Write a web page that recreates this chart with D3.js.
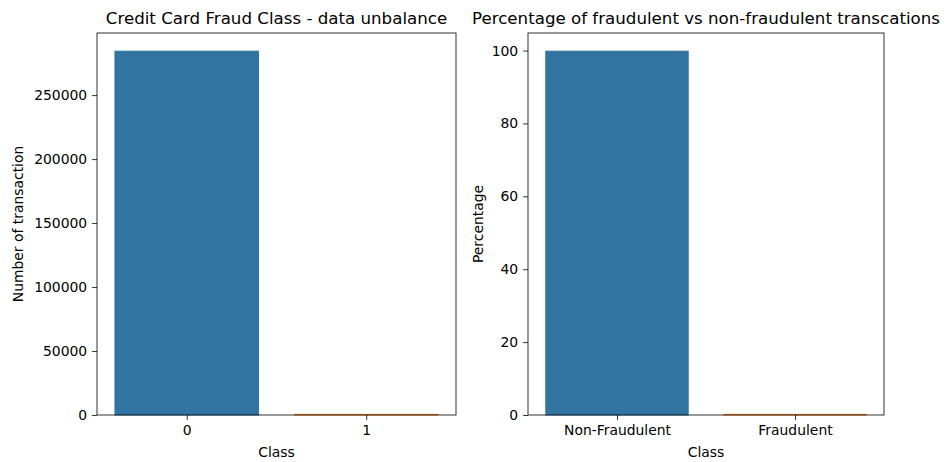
<!DOCTYPE html>
<html><head><meta charset="utf-8">
<script src="https://cdn.jsdelivr.net/npm/d3@7"></script>
<style>body{margin:0;background:#fff}svg{display:block}text{font-family:"DejaVu Sans",sans-serif;fill:#000}</style>
</head><body><svg id="c" width="948" height="462"></svg>
<script>
const classCodes = ["0", "1"];
const classNames = ["Non-Fraudulent", "Fraudulent"];
const counts = [284315, 492];
const percentages = [99.827, 0.173];
const countTicks = [0, 50000, 100000, 150000, 200000, 250000];
const pctTicks = [0, 20, 40, 60, 80, 100];
const colors = ["#3274a1", "#e1812c"];

const svg = d3.select("#c");
const panels = [
  {left: 97, right: 456, cats: classCodes, vals: counts, ticks: countTicks, ylx: 18,
   title: "Credit Card Fraud Class - data unbalance", ylabel: "Number of transaction"},
  {left: 528, right: 884, cats: classNames, vals: percentages, ticks: pctTicks, ylx: 478,
   title: "Percentage of fraudulent vs non-fraudulent transcations", ylabel: "Percentage"}
];
const plotTop = 33, plotBottom = 415;
panels.forEach(p => {
  const g = svg.append("g");
  const x = d3.scaleLinear().domain([-0.5, p.cats.length - 0.5]).range([p.left, p.right]);
  const y = d3.scaleLinear().domain([0, d3.max(p.vals) * 1.05]).range([plotBottom, plotTop]);
  const bw = x(0.4) - x(-0.4);
  g.selectAll("rect.bar").data(p.vals).join("rect").attr("class", "bar")
    .attr("x", (d, i) => x(i) - bw / 2).attr("width", bw)
    .attr("y", d => y(d)).attr("height", d => plotBottom - y(d))
    .attr("fill", (d, i) => colors[i]).attr("stroke", (d, i) => colors[i]).attr("stroke-width", 1);
  g.append("rect").attr("x", p.left).attr("y", plotTop).attr("width", p.right - p.left).attr("height", plotBottom - plotTop)
    .attr("fill", "none").attr("stroke", "#000").attr("stroke-width", 0.8);
  const ya = g.append("g").attr("transform", `translate(${p.left},0)`)
    .call(d3.axisLeft(y).tickValues(p.ticks).tickSize(4.9).tickPadding(4.9).tickFormat(d3.format("d")));
  ya.select(".domain").remove();
  ya.selectAll("text").style("font-size", "13.9px").style("font-family", "DejaVu Sans").attr("fill", "#000");
  ya.selectAll("line").attr("stroke", "#000").attr("stroke-width", 0.8);
  const xa = g.append("g").attr("transform", `translate(0,${plotBottom})`)
    .call(d3.axisBottom(x).tickValues(p.cats.map((c, i) => i)).tickSize(4.9).tickPadding(4.9).tickFormat(i => p.cats[i]));
  xa.select(".domain").remove();
  xa.selectAll("text").style("font-size", "13.9px").style("font-family", "DejaVu Sans").attr("fill", "#000");
  xa.selectAll("line").attr("stroke", "#000").attr("stroke-width", 0.8);
  const cx = (p.left + p.right) / 2;
  g.append("text").attr("x", cx).attr("y", 457).attr("text-anchor", "middle").style("font-size", "13.9px").text("Class");
  g.append("text").attr("transform", `translate(${p.ylx},${(plotTop + plotBottom) / 2}) rotate(-90)`)
    .attr("text-anchor", "middle").attr("dy", "0.35em").style("font-size", "13.9px").text(p.ylabel);
  g.append("text").attr("x", cx).attr("y", 24).attr("text-anchor", "middle").style("font-size", "16.67px").text(p.title);
});
</script></body></html>
